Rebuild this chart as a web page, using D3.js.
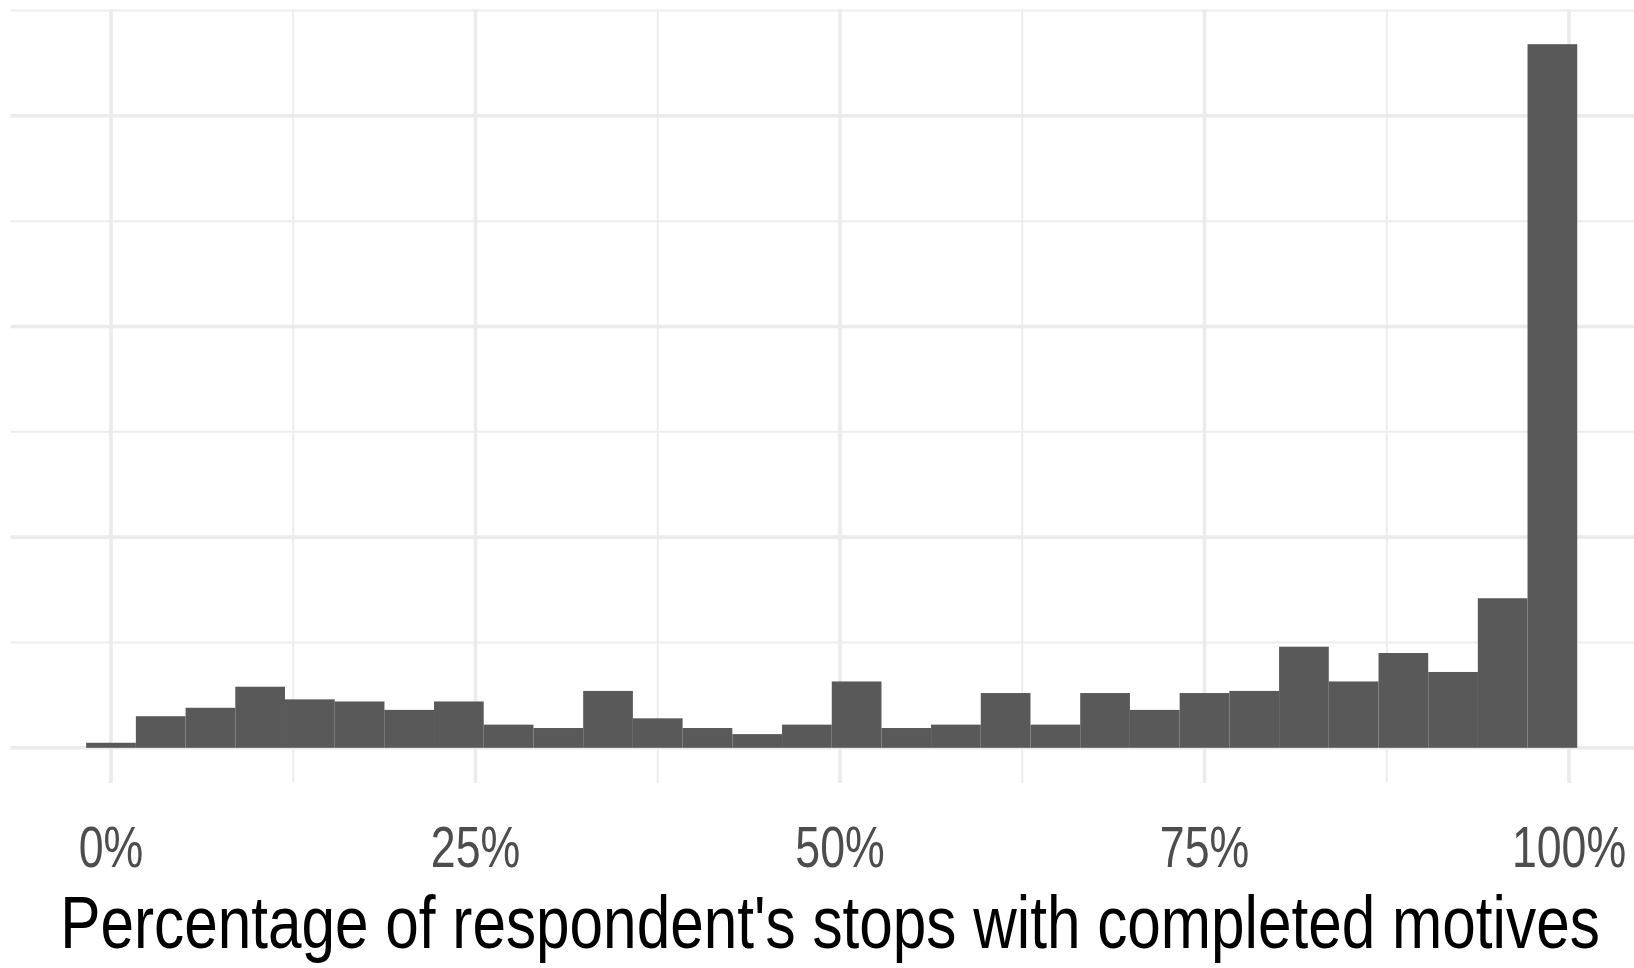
<!DOCTYPE html>
<html>
<head>
<meta charset="utf-8">
<script src="https://cdn.jsdelivr.net/npm/d3@7"></script>
<style>
  html, body { margin: 0; padding: 0; background: #ffffff; }
  svg { display: block; }
</style>
</head>
<body>
<svg id="chart" width="1634" height="968"></svg>
<script>
// ---- data ----
const binCenters = [0, 3.41, 6.82, 10.23, 13.64, 17.05, 20.45, 23.86, 27.27, 30.68,
  34.09, 37.50, 40.91, 44.32, 47.73, 51.14, 54.55, 57.95, 61.36, 64.77,
  68.18, 71.59, 75.00, 78.41, 81.82, 85.23, 88.64, 92.05, 95.45, 98.86];
const binWidth = 3.409;
const counts = [2.4, 15, 19, 29, 23, 22, 18, 22, 11, 9.4,
  27, 14, 9.4, 6.5, 11, 31.5, 9.4, 11, 26, 11,
  26, 18, 26, 27, 48, 31.5, 45, 36, 71, 334];
const xTicks = [0, 25, 50, 75, 100];
const xTickLabels = ["0%", "25%", "50%", "75%", "100%"];
const xMinor = [12.5, 37.5, 62.5, 87.5];
const yMajor = [0, 100, 200, 300];
const yMinor = [50, 150, 250, 350];
const xDomain = [-6.9, 106.9];
const xTitle = "Percentage of respondent's stops with completed motives";

// ---- layout ----
const svg = d3.select("#chart");
const panel = { left: 10.4, right: 1669.6, top: 9, bottom: 783 };

const x = d3.scaleLinear().domain(xDomain).range([panel.left, panel.right]);
const yMax = d3.max(counts);
const y = d3.scaleLinear().domain([-0.05 * yMax, 1.05 * yMax]).range([panel.bottom, panel.top]);

const grid = svg.append("g");
// minor grid
grid.selectAll("line.ymin").data(yMinor).join("line")
  .attr("x1", panel.left).attr("x2", 1634)
  .attr("y1", d => y(d)).attr("y2", d => y(d))
  .attr("stroke", "#ededed").attr("stroke-width", 2);
grid.selectAll("line.xmin").data(xMinor).join("line")
  .attr("y1", panel.top).attr("y2", panel.bottom)
  .attr("x1", d => x(d)).attr("x2", d => x(d))
  .attr("stroke", "#ededed").attr("stroke-width", 2);
// major grid
grid.selectAll("line.ymaj").data(yMajor).join("line")
  .attr("x1", panel.left).attr("x2", 1634)
  .attr("y1", d => y(d)).attr("y2", d => y(d))
  .attr("stroke", "#ebebeb").attr("stroke-width", 3.6);
grid.selectAll("line.xmaj").data(xTicks).join("line")
  .attr("y1", panel.top).attr("y2", panel.bottom)
  .attr("x1", d => x(d)).attr("x2", d => x(d))
  .attr("stroke", "#ebebeb").attr("stroke-width", 3.6);

// bars
svg.append("g").selectAll("rect").data(binCenters).join("rect")
  .attr("x", d => x(d - binWidth / 2))
  .attr("width", d => x(d + binWidth / 2) - x(d - binWidth / 2))
  .attr("y", (d, i) => y(counts[i]))
  .attr("height", (d, i) => y(0) - y(counts[i]))
  .attr("fill", "#595959");

// x tick labels
const sx = 0.77;
svg.append("g").selectAll("text").data(xTicks).join("text")
  .attr("transform", d => `translate(${x(d)},866.5) scale(${sx},1)`)
  .attr("text-anchor", "middle")
  .attr("font-family", "'Liberation Sans', Arial, sans-serif")
  .attr("font-size", 58)
  .attr("fill", "#4d4d4d")
  .text((d, i) => xTickLabels[i]);

// x axis title (horizontally condensed like the reference)
const title = svg.append("text")
  .attr("text-anchor", "middle")
  .attr("font-family", "'Liberation Sans', Arial, sans-serif")
  .attr("font-size", 74)
  .attr("fill", "#000000")
  .text(xTitle);
const natural = title.node().getComputedTextLength();
const tsx = 1540 / natural;
title.attr("transform", `translate(830,948) scale(${tsx},1)`);
</script>
</body>
</html>
